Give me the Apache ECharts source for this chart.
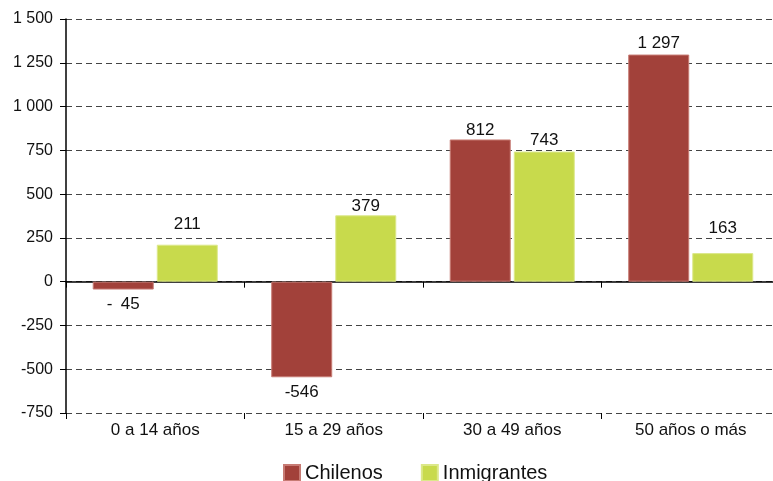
<!DOCTYPE html>
<html>
<head>
<meta charset="utf-8">
<script src="https://cdn.jsdelivr.net/npm/echarts@6/dist/echarts.min.js"></script>
<style>
  html, body { margin: 0; padding: 0; background: #fff; overflow: hidden; }
  #chart { width: 781px; height: 481px; }
</style>
</head>
<body>
<div id="chart"></div>
<script>
// Age groups and net change per population group
var categories = ['0 a 14 años', '15 a 29 años', '30 a 49 años', '50 años o más'];
var chilenos = [-45, -546, 812, 1297];
var inmigrantes = [211, 379, 743, 163];
var seriesNames = ['Chilenos', 'Inmigrantes'];

// Gap (px) between each bar end and its value label
var chilenosLabelGap = [6, 6.5, 0.5, 3];
var inmigrantesLabelGap = [11.5, 0.5, 2.5, 16];

var FONT = '"Liberation Sans", Arial, sans-serif';

// Thousands separated by a space; short negatives padded after the sign
function fmtNumber(v) {
  var s = String(Math.abs(v)).replace(/\B(?=(\d{3})+(?!\d))/g, ' ');
  if (v < 0) {
    return '-' + (s.length < 3 ? '\u2002' + s : s);
  }
  return s;
}

function labelledData(values, gaps) {
  return values.map(function (v, i) {
    return {
      value: v,
      label: { position: v < 0 ? 'bottom' : 'top', distance: gaps[i] }
    };
  });
}

var chart = echarts.init(document.getElementById('chart'), null, { renderer: 'canvas' });

var barLabel = {
  show: true,
  color: '#111',
  fontFamily: FONT,
  fontSize: 17,
  formatter: function (p) { return fmtNumber(p.value); }
};

chart.setOption({
  animation: false,
  backgroundColor: '#ffffff',
  grid: { left: 66, top: 19, right: 1, height: 394 },
  legend: {
    data: seriesNames,
    left: 283,
    top: 463,
    padding: 0,
    itemWidth: 16,
    itemHeight: 16,
    itemGap: 38,
    icon: 'rect',
    textStyle: { fontFamily: FONT, fontSize: 20, color: '#111' }
  },
  xAxis: [
    {
      // line at zero with separators between groups
      type: 'category',
      data: categories,
      position: 'bottom',
      axisLine: { onZero: true, lineStyle: { color: '#000', width: 1.5 } },
      axisTick: { show: true, length: 6, lineStyle: { color: '#000', width: 1 } },
      axisLabel: { show: false },
      splitLine: { show: false }
    },
    {
      // group names along the bottom edge
      type: 'category',
      data: categories,
      position: 'bottom',
      axisLine: { show: false, onZero: false },
      axisTick: { show: true, length: 6, lineStyle: { color: '#000', width: 1 } },
      axisLabel: { show: true, margin: 9, fontFamily: FONT, fontSize: 17, color: '#111' },
      splitLine: { show: false }
    }
  ],
  yAxis: {
    type: 'value',
    min: -750,
    max: 1500,
    interval: 250,
    axisLine: { show: true, lineStyle: { color: '#000', width: 1.5 } },
    axisTick: { show: true, length: 6, lineStyle: { color: '#000', width: 1 } },
    axisLabel: {
      margin: 13,
      fontFamily: FONT,
      fontSize: 16,
      color: '#111',
      formatter: function (v) { return fmtNumber(v).replace('\u2002', ''); }
    },
    splitLine: {
      show: true,
      lineStyle: { color: '#444', type: [6, 4], width: 1 }
    }
  },
  series: [
    {
      name: seriesNames[0],
      type: 'bar',
      xAxisIndex: 0,
      data: labelledData(chilenos, chilenosLabelGap),
      barWidth: 61,
      barGap: '5%',
      itemStyle: { color: '#A2413A', borderColor: '#C77B74', borderWidth: 1 },
      label: barLabel
    },
    {
      name: seriesNames[1],
      type: 'bar',
      xAxisIndex: 0,
      data: labelledData(inmigrantes, inmigrantesLabelGap),
      barWidth: 61,
      barGap: '5%',
      itemStyle: { color: '#C8DA4C', borderColor: '#DCE88A', borderWidth: 1 },
      label: barLabel
    }
  ]
});
</script>
</body>
</html>
